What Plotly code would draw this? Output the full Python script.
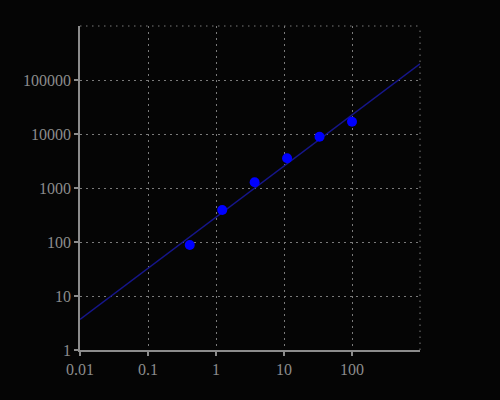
import plotly.graph_objects as go

# measured data points
x_pts = [0.4115, 1.235, 3.70, 11.1, 33.3, 100]
y_pts = [88, 391, 1275, 3548, 8913, 16900]

# fitted line endpoints
x_fit = [0.01, 1000]
y_fit = [3.7, 2.0e5]

x_ticks = [0.01, 0.1, 1, 10, 100]
x_labels = ["0.01", "0.1", "1", "10", "100"]
y_ticks = [1, 10, 100, 1000, 10000, 100000]
y_labels = ["1", "10", "100", "1000", "10000", "100000"]

grid_col = "#7a7a7a"
axis_col = "#8c8c8c"
dash = "1.5px,4.5px"

fig = go.Figure()
fig.add_trace(go.Scatter(x=x_fit, y=y_fit, mode="lines",
                         line=dict(color="#16168a", width=1.5), showlegend=False))
fig.add_trace(go.Scatter(x=x_pts, y=y_pts, mode="markers",
                         marker=dict(color="#0000ff", size=10), showlegend=False))

axis_common = dict(
    type="log", showgrid=True, gridcolor=grid_col, griddash=dash, gridwidth=1,
    showline=True, linecolor=axis_col, linewidth=1.5,
    ticks="outside", ticklen=4, tickcolor=axis_col, tickwidth=1.5,
    zeroline=False, tickfont=dict(family="Liberation Serif", size=16, color=axis_col),
)
fig.update_xaxes(range=[-2, 3], tickvals=x_ticks, ticktext=x_labels, **axis_common)
fig.update_yaxes(range=[0, 6], tickvals=y_ticks, ticktext=y_labels, **axis_common)

# dotted border lines at top and right edges
fig.add_shape(type="line", xref="paper", yref="paper", x0=1, x1=1, y0=0, y1=1,
              line=dict(color=grid_col, width=1, dash=dash))
fig.add_shape(type="line", xref="paper", yref="paper", x0=0, x1=1, y0=1, y1=1,
              line=dict(color=grid_col, width=1, dash=dash))

fig.update_layout(
    width=500, height=400,
    margin=dict(l=80, r=80, t=26, b=50),
    paper_bgcolor="#050505", plot_bgcolor="#050505",
)
fig.write_html(
    "out.html",
    config={"displayModeBar": False},
    post_script="document.body.style.margin='0';document.body.style.background='#050505';",
)
